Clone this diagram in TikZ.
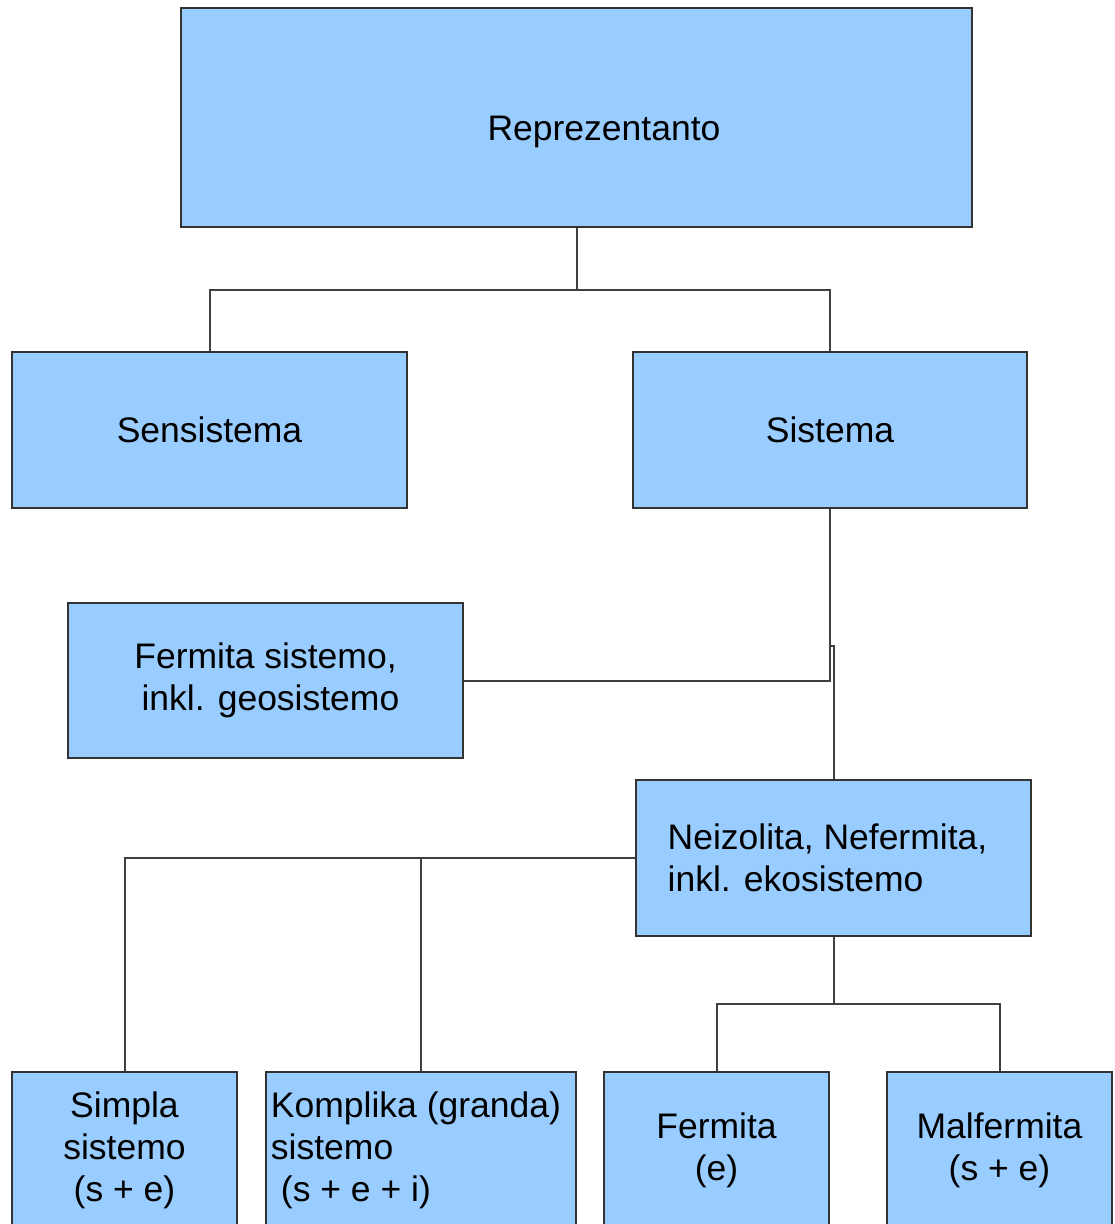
\documentclass[tikz,border=0pt]{standalone}
\usepackage{fontspec}
\setmainfont{Liberation Sans}
\begin{document}
\begin{tikzpicture}[x=1pt,y=-1pt,
  box/.style={draw=black!80, line width=2pt, fill=boxblue, inner sep=0pt,
    font=\fontsize{35.5}{42}\selectfont},
  label/.style={inner sep=0pt, font=\fontsize{35.5}{42}\selectfont},
  link/.style={draw=black!75, line width=2pt}]
\definecolor{boxblue}{HTML}{99CCFF}
\useasboundingbox (0,0) rectangle (1115,1224);
\clip (0,0) rectangle (1115,1224);

% top level
\node[box, minimum width=791, minimum height=219] (rep) at (576.5,117.5) {};
\node[label, anchor=base] (reptext) at (604,140) {Reprezentanto};

% second level
\node[box, minimum width=395, minimum height=156] (sen) at (209.5,430) {Sensistema};
\node[box, minimum width=394, minimum height=156] (sis) at (830,430) {Sistema};

% third level
\node[box, minimum width=395, minimum height=155, align=center] (fer) at (265.5,680.5)
  {Fermita sistemo,\\~inkl. geosistemo};
\node[box, minimum width=395, minimum height=156, align=left] (neiz) at (833.5,858)
  {Neizolita, Nefermita,\hspace*{12pt}\\inkl. ekosistemo};

% bottom level
\node[box, minimum width=225, minimum height=156, align=center] (sim) at (124.5,1150)
  {Simpla\\sistemo\\(s + e)};
\node[box, minimum width=310, minimum height=156, align=left] (komp) at (421,1150)
  {Komplika (granda)\hspace*{10pt}\\sistemo\\\hspace*{10pt}(s + e + i)};
\node[box, minimum width=225, minimum height=156, align=center] (fe) at (716.5,1150)
  {Fermita\\(e)};
\node[box, minimum width=225, minimum height=156, align=center] (mal) at (999.5,1150)
  {Malfermita\\(s + e)};

% connectors
\draw[link] (rep.south) -- ++(0,62) -| (sen.north);
\draw[link] (rep.south) -- ++(0,62) -| (sis.north);
\draw[link] (sis.south) |- (fer.east);
\coordinate (j) at ([yshift=-137pt]sis.south);
\draw[link] (j) -| (neiz.north);
\draw[link] (neiz.west) -| (sim.north);
\draw[link] (neiz.west) -| (komp.north);
\draw[link] (neiz.south) -- ++(0,67) -| (fe.north);
\draw[link] (neiz.south) -- ++(0,67) -| (mal.north);
\end{tikzpicture}
\end{document}
